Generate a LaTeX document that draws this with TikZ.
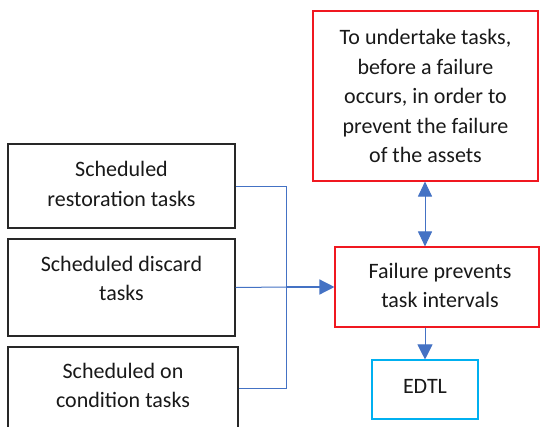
\documentclass[tikz,border=0pt]{standalone}
\usepackage{fontspec}
\setmainfont{Carlito}
\usetikzlibrary{arrows.meta}
\definecolor{boxgray}{RGB}{40,40,40}
\definecolor{boxred}{RGB}{240,24,32}
\definecolor{boxcyan}{RGB}{0,176,240}
\definecolor{linkblue}{RGB}{68,114,196}
\definecolor{ink}{RGB}{25,25,25}
\tikzset{
  box/.style={draw=#1, line width=1.1pt, inner sep=0pt, fill=white},
  txt/.style={align=center, text=ink, font=\fontsize{22}{29.5}\selectfont, inner sep=0pt},
  link/.style={draw=linkblue, line width=1pt},
  tip/.style={-{Triangle[length=15pt,width=15pt]}},
  tips/.style={{Triangle[length=15pt,width=14pt]}-{Triangle[length=15pt,width=14pt]}}
}
\begin{document}
\begin{tikzpicture}[x=1pt,y=-1pt]
  \clip (0,0) rectangle (540,426);
  \fill[white] (0,0) rectangle (540,426);

  % task boxes on the left
  \node[box=boxgray, minimum width=227pt, minimum height=84pt] (rest) at (121.5,186) {};
  \node[box=boxgray, minimum width=227pt, minimum height=97pt] (disc) at (121.5,287.5) {};
  \node[box=boxgray, minimum width=230pt, minimum height=82pt] (cond) at (123,388) {};
  \node[txt] at (121.5,184) {Scheduled\\restoration tasks};
  \node[txt] at (121.5,278.5) {Scheduled discard\\tasks};
  \node[txt] at (123,385.5) {Scheduled on\\condition tasks};

  % boxes on the right
  \node[box=boxred, minimum width=225pt, minimum height=170pt] (goal) at (425.5,96) {};
  \node[txt] at (425.5,96) {To undertake tasks,\\before a failure\\occurs, in order to\\prevent the failure\\of the assets};
  \node[box=boxred, minimum width=204pt, minimum height=80pt] (fail) at (437,287) {};
  \node[txt] at (440,285.5) {Failure prevents\\task intervals};
  \node[box=boxcyan, minimum width=106pt, minimum height=59pt] (edtl) at (425,389.5) {};
  \node[txt] at (425,386) {EDTL};

  % connectors
  \coordinate (join) at (286,287);
  \draw[link] (rest.east) -| (join);
  \draw[link] (cond.east) -| (join);
  \draw[link] (disc.east) -- (join);
  \draw[link, line width=1.4pt, tip] (join) -- (fail.west);
  \draw[link, tips] (goal.south -| edtl.north) -- (fail.north -| edtl.north);
  \draw[link, tip] (fail.south -| edtl.north) -- (edtl.north);
\end{tikzpicture}
\end{document}
